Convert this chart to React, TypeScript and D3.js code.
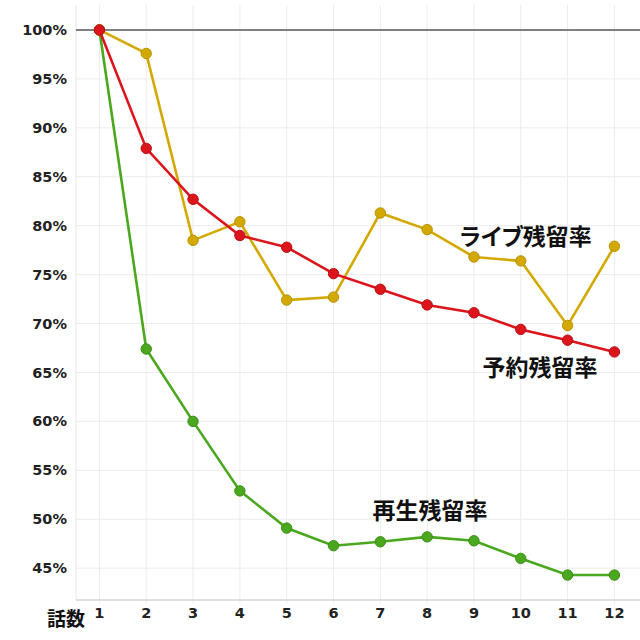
import React from "react";
import * as d3 from "d3";

const episodes = [1, 2, 3, 4, 5, 6, 7, 8, 9, 10, 11, 12];
const reserveRate = [100, 87.9, 82.7, 79.0, 77.8, 75.1, 73.5, 71.9, 71.1, 69.4, 68.3, 67.1];
const liveRate = [100, 97.6, 78.5, 80.4, 72.4, 72.7, 81.3, 79.6, 76.8, 76.4, 69.8, 77.9];
const playRate = [100, 67.4, 60.0, 52.9, 49.1, 47.3, 47.7, 48.2, 47.8, 46.0, 44.3, 44.3];
const yTicks = [45, 50, 55, 60, 65, 70, 75, 80, 85, 90, 95, 100];

const seriesList = [
  { name: "再生残留率", values: playRate, color: "#4aa71e", stroke: "#3d8f18", label: { ep: 8.06, v: 50.8 }, palt: false },
  { name: "ライブ残留率", values: liveRate, color: "#d3a800", stroke: "#b89200", label: { ep: 10.11, v: 78.85 }, palt: true },
  { name: "予約残留率", values: reserveRate, color: "#dc141c", stroke: "#b80f16", label: { ep: 10.41, v: 65.45 }, palt: false },
];

export default function App() {
  const W = 640, H = 640;
  const left = 76, right = 639, top = 5, bottom = 600;
  const x = d3.scaleLinear().domain([0.5, 12.525]).range([left, right]);
  const y = d3.scaleLinear().domain([41.75, 102.55]).range([bottom, top]);
  const line = d3.line<number>().x((_, i) => x(episodes[i])).y((d) => y(d));
  const font = "'DejaVu Sans', Verdana, sans-serif";
  const jpFont = "'Noto Sans CJK JP', sans-serif";

  return (
    <svg width={W} height={H} style={{ position: "absolute", left: 0, top: 0 }}>
      <rect width={W} height={H} fill="#fff" />
      {episodes.map((e) => (
        <line key={"vg" + e} x1={x(e)} x2={x(e)} y1={top} y2={bottom + 4} stroke="#ececec" strokeWidth={1} />
      ))}
      {yTicks.filter((t) => t !== 100).map((t) => (
        <line key={"hg" + t} x1={left} x2={W} y1={y(t)} y2={y(t)} stroke="#ececec" strokeWidth={1} />
      ))}
      <line x1={left} x2={left} y1={top} y2={bottom} stroke="#e6e6e6" strokeWidth={1} />
      <line x1={left} x2={W} y1={bottom} y2={bottom} stroke="#d4d4d4" strokeWidth={1.5} />
      <line x1={left} x2={W} y1={y(100)} y2={y(100)} stroke="#808080" strokeWidth={2} />
      {yTicks.map((t) => (
        <text key={"yt" + t} x={67} y={y(t)} dy="0.35em" textAnchor="end" fontFamily={font} fontWeight="bold" fontSize={14.5} fill="#222">
          {t}%
        </text>
      ))}
      {episodes.map((e) => (
        <text key={"xt" + e} x={x(e)} y={613} dy="0.35em" textAnchor="middle" fontFamily={font} fontWeight="bold" fontSize={14.5} fill="#222">
          {e}
        </text>
      ))}
      <text x={66} y={619} dy="0.35em" textAnchor="middle" fontFamily={jpFont} fontWeight="bold" fontSize={19} fill="#111">
        話数
      </text>
      {seriesList.map((s) => (
        <g key={s.name}>
          <path d={line(s.values) || ""} fill="none" stroke={s.color} strokeWidth={2.6} />
          {s.values.map((v, i) => (
            <circle key={i} cx={x(episodes[i])} cy={y(v)} r={5.2} fill={s.color} stroke={s.stroke} strokeWidth={1} />
          ))}
        </g>
      ))}
      {seriesList.map((s) => (
        <text
          key={"lb" + s.name}
          x={x(s.label.ep)}
          y={y(s.label.v)}
          dy="0.35em"
          textAnchor="middle"
          fontFamily={jpFont}
          fontWeight="bold"
          fontSize={23}
          fill="#111"
          style={s.palt ? { fontFeatureSettings: "'palt'" } : undefined}
        >
          {s.name}
        </text>
      ))}
    </svg>
  );
}
